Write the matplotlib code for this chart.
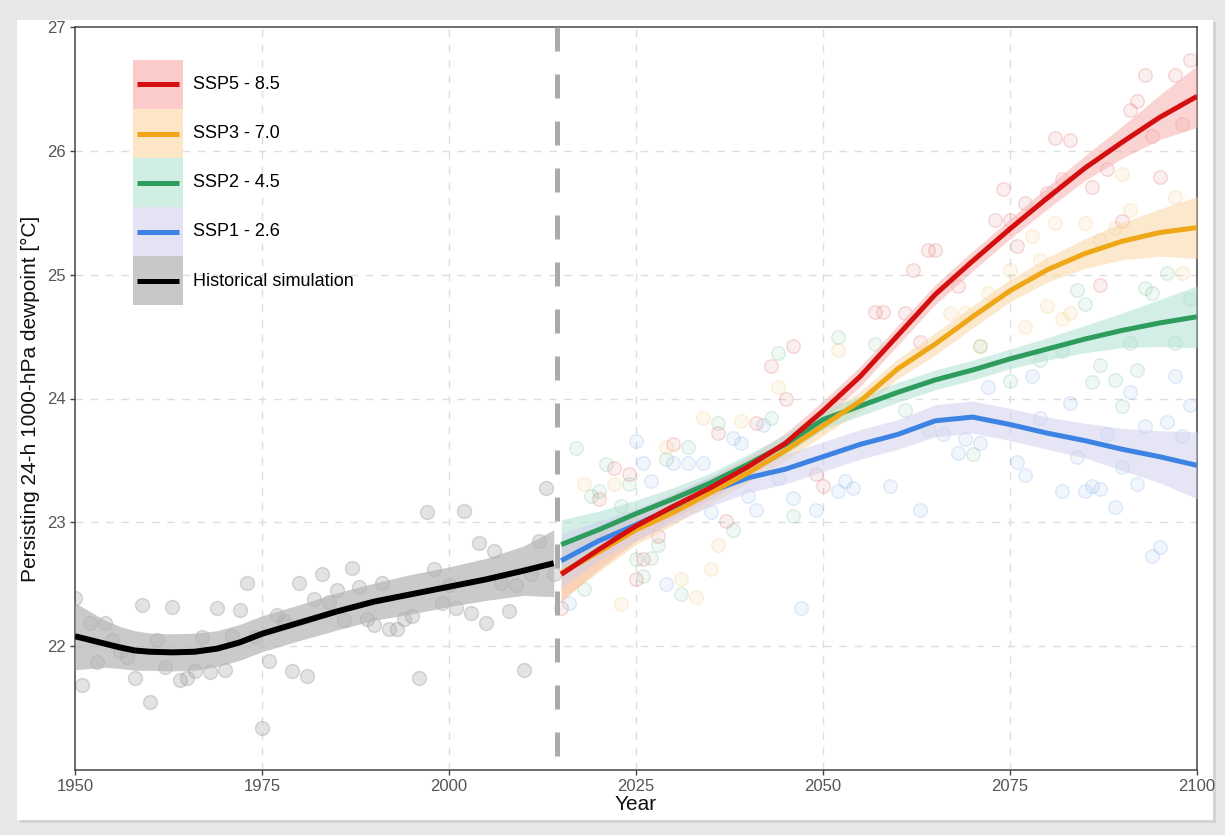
import matplotlib
matplotlib.use("Agg")
import matplotlib.pyplot as plt
from matplotlib.patches import Rectangle
from matplotlib.lines import Line2D
from matplotlib.legend_handler import HandlerBase

plt.rcParams['font.family'] = ['Liberation Sans', 'DejaVu Sans']

# ---------------- data ----------------
hist_years = list(range(1950, 2015))
hist_values = [22.39, 21.69, 22.19, 21.87, 22.19, 22.05, 21.96, 21.91, 21.74, 22.33,
               21.55, 22.05, 21.83, 22.32, 21.73, 21.74, 21.80, 22.07, 21.79, 22.31,
               21.81, 22.08, 22.29, 22.51, 22.07, 21.34, 21.88, 22.25, 22.20, 21.80,
               22.51, 21.76, 22.38, 22.58, 22.36, 22.45, 22.21, 22.63, 22.48, 22.22,
               22.17, 22.51, 22.14, 22.14, 22.22, 22.24, 21.74, 23.08, 22.62, 22.35,
               22.49, 22.31, 23.09, 22.27, 22.83, 22.19, 22.77, 22.51, 22.28, 22.49,
               21.81, 22.58, 22.85, 23.28, 22.58]

hist_fit_years = [1950, 1952, 1954, 1956, 1958, 1960, 1963, 1966, 1969, 1972, 1975,
                  1980, 1985, 1990, 1995, 2000, 2005, 2010, 2014]
hist_fit = [22.08, 22.05, 22.02, 21.99, 21.965, 21.955, 21.95, 21.955, 21.98, 22.03, 22.10,
            22.19, 22.28, 22.36, 22.42, 22.48, 22.54, 22.61, 22.67]
hist_se = [0.27, 0.23, 0.19, 0.17, 0.16, 0.15, 0.15, 0.15, 0.145, 0.145, 0.145,
           0.145, 0.15, 0.15, 0.16, 0.16, 0.17, 0.20, 0.27]

fut_fit_years = [2015, 2020, 2025, 2030, 2035, 2040, 2045, 2050, 2055, 2060,
                 2065, 2070, 2075, 2080, 2085, 2090, 2095, 2100]
ssp585_fit = [22.58, 22.78, 22.97, 23.13, 23.28, 23.45, 23.64, 23.90, 24.18, 24.51,
              24.84, 25.11, 25.37, 25.62, 25.86, 26.07, 26.27, 26.44]
ssp370_fit = [22.59, 22.76, 22.94, 23.08, 23.24, 23.40, 23.58, 23.78, 23.98, 24.24,
              24.44, 24.66, 24.87, 25.04, 25.17, 25.27, 25.34, 25.38]
ssp245_fit = [22.82, 22.94, 23.07, 23.19, 23.32, 23.47, 23.63, 23.83, 23.94, 24.05,
              24.15, 24.23, 24.32, 24.40, 24.48, 24.55, 24.61, 24.66]
ssp126_fit = [22.69, 22.85, 22.98, 23.12, 23.25, 23.36, 23.43, 23.53, 23.63, 23.71,
              23.82, 23.85, 23.79, 23.72, 23.66, 23.59, 23.53, 23.46]

ssp585_se = [0.22, 0.16, 0.12, 0.10, 0.09, 0.08, 0.08, 0.08, 0.08, 0.08, 0.08, 0.08, 0.08, 0.09, 0.10, 0.13, 0.18, 0.25]
ssp370_se = [0.22, 0.16, 0.12, 0.10, 0.09, 0.08, 0.08, 0.08, 0.08, 0.08, 0.09, 0.09, 0.09, 0.10, 0.12, 0.15, 0.19, 0.25]
ssp245_se = [0.20, 0.15, 0.11, 0.09, 0.08, 0.08, 0.08, 0.08, 0.08, 0.08, 0.08, 0.08, 0.08, 0.09, 0.11, 0.14, 0.19, 0.25]
ssp126_se = [0.22, 0.16, 0.13, 0.12, 0.12, 0.12, 0.12, 0.12, 0.12, 0.12, 0.13, 0.13, 0.13, 0.13, 0.14, 0.17, 0.21, 0.27]

ssp585_pt_years = [2015, 2020, 2022, 2024, 2025, 2026, 2028, 2030, 2036, 2037,
                   2041, 2043, 2045, 2046, 2049, 2050, 2057, 2058, 2061, 2062,
                   2063, 2064, 2065, 2068, 2073, 2074, 2075, 2076, 2077, 2080,
                   2081, 2082, 2083, 2086, 2087, 2088, 2090, 2091, 2092, 2093,
                   2094, 2095, 2097, 2098, 2099]
ssp585_pt = [22.31, 23.19, 23.44, 23.39, 22.54, 22.70, 22.89, 23.63, 23.72, 23.01,
             23.80, 24.26, 24.00, 24.42, 23.39, 23.29, 24.70, 24.70, 24.69, 25.04,
             24.46, 25.20, 25.20, 24.91, 25.44, 25.69, 25.44, 25.23, 25.58, 25.66,
             26.10, 25.77, 26.09, 25.71, 24.92, 25.85, 25.43, 26.33, 26.40, 26.61,
             26.12, 25.79, 26.61, 26.22, 26.73]

ssp370_pt_years = [2018, 2022, 2023, 2029, 2031, 2033, 2034, 2035, 2036, 2039,
                   2044, 2052, 2067, 2069, 2071, 2072, 2075, 2077, 2078, 2079,
                   2080, 2081, 2082, 2083, 2085, 2087, 2089, 2090, 2091, 2097, 2098]
ssp370_pt = [23.31, 23.31, 22.34, 23.61, 22.54, 22.40, 23.84, 22.62, 22.82, 23.82,
             24.09, 24.39, 24.69, 24.69, 24.42, 24.85, 25.04, 24.58, 25.31, 25.12,
             24.75, 25.42, 24.64, 24.69, 25.42, 25.28, 25.38, 25.81, 25.52, 25.63, 25.01]

ssp245_pt_years = [2017, 2018, 2019, 2020, 2021, 2023, 2024, 2025, 2026, 2027,
                   2028, 2029, 2031, 2032, 2036, 2038, 2043, 2044, 2046, 2052,
                   2057, 2061, 2064, 2070, 2071, 2075, 2079, 2082, 2084, 2085,
                   2086, 2087, 2089, 2090, 2091, 2092, 2093, 2094, 2096, 2097, 2099]
ssp245_pt = [23.60, 22.46, 23.21, 23.25, 23.47, 23.13, 23.31, 22.70, 22.57, 22.71,
             22.82, 23.51, 22.42, 23.61, 23.80, 22.94, 23.84, 24.37, 23.05, 24.50,
             24.44, 23.91, 23.75, 23.55, 24.42, 24.14, 24.31, 24.38, 24.88, 24.76,
             24.13, 24.27, 24.15, 23.94, 24.45, 24.23, 24.89, 24.85, 25.01, 24.45, 24.80]

ssp126_pt_years = [2016, 2025, 2026, 2027, 2029, 2030, 2032, 2034, 2035, 2038,
                   2039, 2040, 2041, 2042, 2044, 2046, 2047, 2049, 2052, 2053,
                   2054, 2059, 2063, 2066, 2068, 2069, 2071, 2072, 2076, 2077,
                   2078, 2079, 2082, 2083, 2084, 2085, 2086, 2087, 2088, 2089,
                   2090, 2091, 2092, 2093, 2094, 2095, 2096, 2097, 2098, 2099]
ssp126_pt = [22.35, 23.66, 23.48, 23.33, 22.50, 23.48, 23.48, 23.48, 23.08, 23.68,
             23.64, 23.21, 23.10, 23.79, 23.36, 23.20, 22.31, 23.10, 23.25, 23.33,
             23.28, 23.29, 23.10, 23.71, 23.56, 23.67, 23.64, 24.09, 23.49, 23.38,
             24.18, 23.84, 23.25, 23.96, 23.53, 23.25, 23.29, 23.27, 23.71, 23.12,
             23.45, 24.05, 23.31, 23.78, 22.73, 22.80, 23.81, 24.18, 23.70, 23.95]

split_year = 2014.5
legend_labels = ["SSP5 - 8.5", "SSP3 - 7.0", "SSP2 - 4.5", "SSP1 - 2.6", "Historical simulation"]
x_ticks = [1950, 1975, 2000, 2025, 2050, 2075, 2100]
y_ticks = [22, 23, 24, 25, 26, 27]

# ---------------- styles ----------------
line_colors = ["#d40f0f", "#efa718", "#2e9c5c", "#3c83e3", "#000000"]
band_colors = ["#f7a8a8", "#fad49c", "#a9dfcf", "#cfcdee", "#b4b4b4"]
key_colors = ["#fbcaca", "#fde6c6", "#d0eee4", "#e3e3f3", "#c8c8c8"]

W, H = 1225, 835
fig = plt.figure(figsize=(W / 100, H / 100), dpi=100)
fig.patch.set_facecolor("#e7e7e7")
# soft shadow + white page
fig.patches.append(Rectangle((20 / W, 12 / H), 1196 / W, 801 / H, transform=fig.transFigure,
                             facecolor="#d4d4d4", edgecolor="none", zorder=-3))
fig.patches.append(Rectangle((17 / W, 15 / H), 1196 / W, 800 / H, transform=fig.transFigure,
                             facecolor="white", edgecolor="none", zorder=-2))

ax = fig.add_axes([75 / W, (H - 770) / H, 1122 / W, 743 / H])
ax.set_facecolor("none")
ax.set_xlim(1950, 2100)
ax.set_ylim(21, 27)

# grid
for xv in x_ticks[1:-1]:
    ax.axvline(xv, color="#dedede", lw=1.0, linestyle=(0, (5.5, 5.5)), zorder=0)
for yv in y_ticks[:-1]:
    ax.axhline(yv, color="#dedede", lw=1.0, linestyle=(0, (5.5, 5.5)), zorder=0)

# historical
ax.scatter(hist_years, hist_values, s=100, facecolor=(0.66, 0.66, 0.66, 0.32),
           edgecolor=(0.55, 0.55, 0.55, 0.32), linewidth=1.0, zorder=2)
lo = [f - s for f, s in zip(hist_fit, hist_se)]
hi = [f + s for f, s in zip(hist_fit, hist_se)]
ax.fill_between(hist_fit_years, lo, hi, color=band_colors[4], alpha=0.7, lw=0, zorder=3)

# scenarios
pts = [(ssp585_pt_years, ssp585_pt), (ssp370_pt_years, ssp370_pt),
       (ssp245_pt_years, ssp245_pt), (ssp126_pt_years, ssp126_pt)]
fits = [ssp585_fit, ssp370_fit, ssp245_fit, ssp126_fit]
ses = [ssp585_se, ssp370_se, ssp245_se, ssp126_se]
for i in range(4):
    c = matplotlib.colors.to_rgb(line_colors[i])
    ax.scatter(pts[i][0], pts[i][1], s=95, facecolor=(*c, 0.07), edgecolor=(*c, 0.15),
               linewidth=1.0, zorder=2)
for i in range(4):
    lo = [f - s for f, s in zip(fits[i], ses[i])]
    hi = [f + s for f, s in zip(fits[i], ses[i])]
    ax.fill_between(fut_fit_years, lo, hi, color=band_colors[i], alpha=0.5, lw=0, zorder=3)

vl = ax.axvline(split_year, color="#aaaaaa", lw=3.6, linestyle=(0, (4.8, 4.6)), zorder=4)
vl.set_ydata([1, 0])
vl.set_dash_capstyle("butt")

ax.plot(hist_fit_years, hist_fit, color="black", lw=4.3, solid_capstyle="butt",
        solid_joinstyle="round", zorder=6)
for i in [3, 2, 1, 0]:
    ax.plot(fut_fit_years, fits[i], color=line_colors[i], lw=3.6, solid_capstyle="butt",
            solid_joinstyle="round", zorder=6)

# axes styling
for sp in ax.spines.values():
    sp.set_color("#444444")
    sp.set_linewidth(1.1)
ax.set_xticks(x_ticks)
ax.set_yticks(y_ticks)
ax.tick_params(direction="out", length=3.5, width=1.0, color="#444444",
               labelsize=12, labelcolor="#555555", pad=3)
ax.set_xlabel("Year", fontsize=15, color="#111111", labelpad=1)
ax.set_ylabel("Persisting 24-h 1000-hPa dewpoint [°C]", fontsize=15, color="#111111")
ax.yaxis.set_label_coords(-0.031, 0.5)


# legend with band-backed keys
class BandKey:
    def __init__(self, line, band):
        self.line = line
        self.band = band


class HandlerBandKey(HandlerBase):
    def create_artists(self, legend, orig_handle, xdescent, ydescent, width, height,
                       fontsize, trans):
        r = Rectangle((-xdescent, -ydescent), width, height, facecolor=orig_handle.band,
                      edgecolor="none", transform=trans)
        yc = -ydescent + height / 2
        ln = Line2D([-xdescent + 0.08 * width, -xdescent + 0.92 * width], [yc, yc],
                    color=orig_handle.line, lw=3.6, solid_capstyle="butt", transform=trans)
        return [r, ln]


handles = [BandKey(line_colors[i], key_colors[i]) for i in range(5)]
ax.legend(handles, legend_labels, handler_map={BandKey: HandlerBandKey()},
          loc="upper left", bbox_to_anchor=(0.0517, 0.9556), frameon=False,
          borderpad=0, borderaxespad=0, labelspacing=0, handlelength=2.77,
          handleheight=3.8, handletextpad=0.55, fontsize=13)

fig.savefig("out.png", dpi=100, facecolor=fig.get_facecolor())
